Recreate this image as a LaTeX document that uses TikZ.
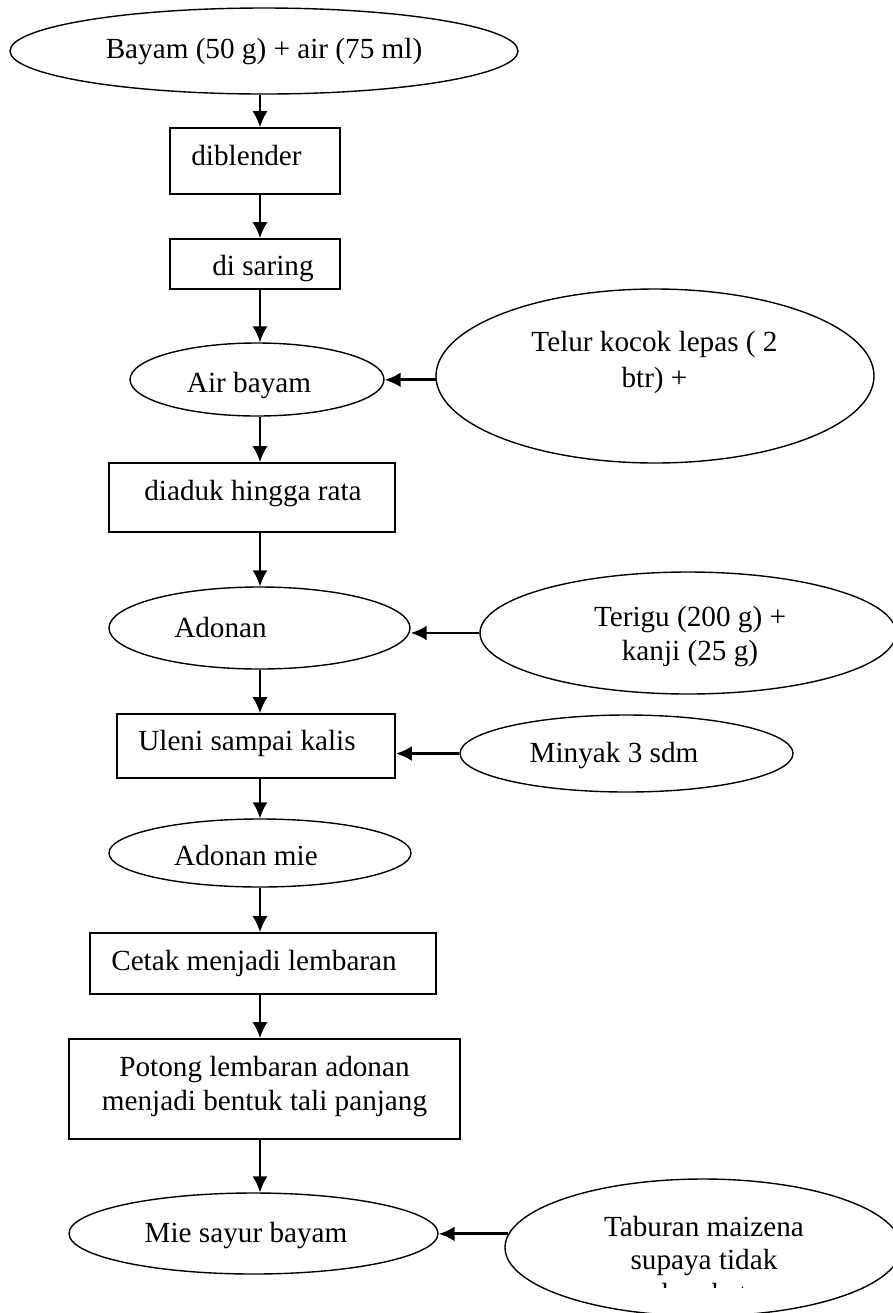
\documentclass[tikz,border=0pt]{standalone}
\usepackage{fontspec}
\setmainfont{Liberation Serif}
\usetikzlibrary{shapes.geometric,arrows.meta}

\tikzset{
  proses/.style={draw, rectangle, line width=0.85pt, inner sep=0pt},
  bahan/.style={draw, ellipse, line width=0.7pt, inner sep=0pt},
  teks/.style={inner sep=0pt, align=center, anchor=base, font=\fontsize{14.6pt}{16.6pt}\selectfont},
  panah/.style={line width=0.85pt, -{Latex[length=8pt,width=7.5pt]}},
  masuk/.style={line width=1.4pt, -{Latex[length=8pt,width=7.5pt]}}
}

\begin{document}
\begin{tikzpicture}[x=0.5pt,y=-0.5pt]
\useasboundingbox (0,0) rectangle (893,1313);

% bentuk
\node[bahan, minimum width=254pt, minimum height=43pt] (bayam) at (264,51) {};
\node[proses, minimum width=85pt, minimum height=33pt] (blender) at (255,161) {};
\node[proses, minimum width=85pt, minimum height=25pt] (saring) at (255,264) {};
\node[bahan, minimum width=127pt, minimum height=36.5pt] (airbayam) at (257,379.5) {};
\node[bahan, minimum width=219pt, minimum height=87pt] (telur) at (655,376) {};
\node[proses, minimum width=143pt, minimum height=34.5pt] (aduk) at (252,497.5) {};
\node[bahan, minimum width=150.5pt, minimum height=41pt] (adonan) at (259.5,628) {};
\node[bahan, minimum width=208pt, minimum height=61pt] (terigu) at (688,633) {};
\node[proses, minimum width=139pt, minimum height=32pt] (uleni) at (256,746) {};
\node[bahan, minimum width=166.5pt, minimum height=38.5pt] (minyak) at (626.5,753.5) {};
\node[bahan, minimum width=151pt, minimum height=34pt] (adonanmie) at (260,853) {};
\node[proses, minimum width=173pt, minimum height=30.5pt] (cetak) at (263,963.5) {};
\node[proses, minimum width=195.5pt, minimum height=50pt] (potong) at (264.5,1089) {};
\node[bahan, minimum width=184.5pt, minimum height=40.5pt] (miesayur) at (253.5,1233.5) {};
\node[bahan, minimum width=198pt, minimum height=68.5pt] (taburan) at (703,1247.5) {};

% teks (baris terakhir di titik base)
\node[teks] (tbayam) at (264,58) {Bayam (50 g) + air (75 ml)};
\node[teks] (tblender) at (246.5,165) {diblender};
\node[teks] (tsaring) at (263,275) {di saring};
\node[teks] (tairbayam) at (249,392) {Air bayam};
\node[teks] (ttelur) at (654.5,387) {Telur kocok lepas ( 2\\[1pt]btr) +};
\node[teks] (taduk) at (253,500) {diaduk hingga rata};
\node[teks] (tadonan) at (220.5,637) {Adonan};
\node[teks] (tterigu) at (690,660) {Terigu (200 g) +\\kanji (25 g)};
\node[teks] (tuleni) at (247,750) {Uleni sampai kalis};
\node[teks] (tminyak) at (614,762) {Minyak 3 sdm};
\node[teks] (tadonanmie) at (246,865) {Adonan mie};
\node[teks] (tcetak) at (254,970) {Cetak menjadi lembaran};
\node[teks] (tpotong) at (264.5,1110) {Potong lembaran adonan\\menjadi bentuk tali panjang};
\node[teks] (tmiesayur) at (246,1242) {Mie sayur bayam};
\begin{scope}
\clip (500,1170) rectangle (893,1287);
\node[teks] (ttaburan) at (704,1303) {Taburan maizena\\supaya tidak\\lengket};
\end{scope}

% panah
\coordinate (sumbu) at (260,0);
\foreach \a/\b in {bayam/blender, blender/saring, saring/airbayam, airbayam/aduk, aduk/adonan, adonan/uleni, uleni/adonanmie, adonanmie/cetak, cetak/potong, potong/miesayur}
  \draw[panah] (sumbu |- \a.south) -- (sumbu |- \b.north);

\draw[masuk] (telur.181.6) -- (telur.181.6 -| airbayam.east);
\draw[masuk] (terigu.west) -- (terigu.west -| adonan.east);
\draw[masuk] (minyak.west) -- (minyak.west -| uleni.east);
\draw[masuk] (taburan.176) -- (taburan.176 -| miesayur.east);

\end{tikzpicture}
\end{document}
